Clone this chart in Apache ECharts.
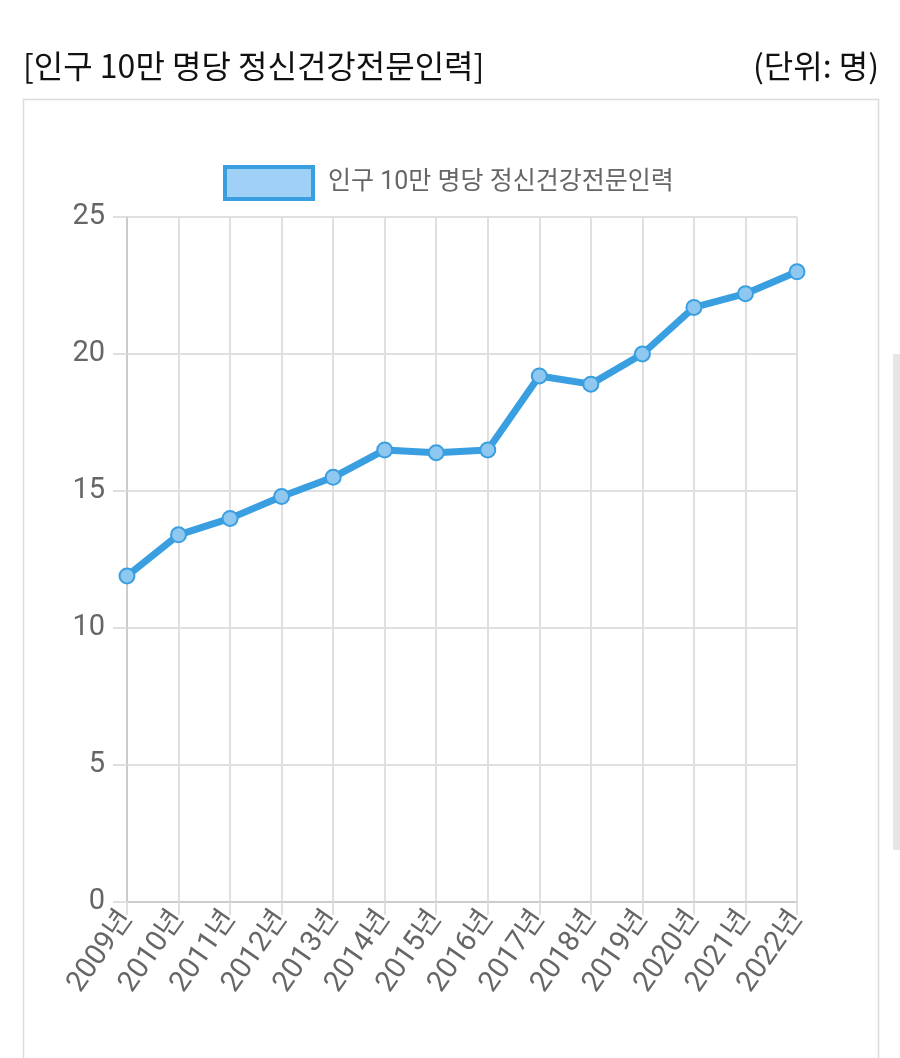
<!DOCTYPE html>
<html><head><meta charset="utf-8">
<script src="https://cdn.jsdelivr.net/npm/echarts@6/dist/echarts.min.js"></script>
<style>html,body{margin:0;padding:0;background:#fff}#c{width:900px;height:1058px}</style>
</head><body><div id="c"></div>
<script>
const titleText = '[인구 10만 명당 정신건강전문인력]';
const unitText = '(단위: 명)';
const seriesName = '인구 10만 명당 정신건강전문인력';
const categories = ['2009년','2010년','2011년','2012년','2013년','2014년','2015년','2016년','2017년','2018년','2019년','2020년','2021년','2022년'];
const values = [11.9, 13.4, 14.0, 14.8, 15.5, 16.5, 16.4, 16.5, 19.2, 18.9, 20.0, 21.7, 22.2, 23.0];
const yTicks = [0, 5, 10, 15, 20, 25];

const FONT = "Roboto, 'Noto Sans CJK KR', sans-serif";
const chart = echarts.init(document.getElementById('c'), null, {renderer: 'canvas'});
chart.setOption({
  animation: false,
  textStyle: {fontFamily: FONT},
  graphic: [
    {type: 'text', left: 23, top: 50, style: {text: titleText, font: "400 32px 'Noto Sans CJK KR', sans-serif", fill: '#111'}},
    {type: 'text', right: 21, top: 50, style: {text: unitText, font: "400 32px 'Noto Sans CJK KR', sans-serif", fill: '#111'}},
    {type: 'rect', shape: {x: 23.5, y: 99.5, width: 855, height: 1000}, style: {fill: 'none', stroke: '#dcdcdc', lineWidth: 1.5}, z: -1},
    {type: 'rect', shape: {x: 893, y: 354, width: 7, height: 496}, style: {fill: '#e6e6e6'}}
  ],
  legend: {
    top: 160, left: 218,
    itemWidth: 88, itemHeight: 32, itemGap: 10,
    icon: 'rect',
    textStyle: {fontSize: 25, color: '#666', fontFamily: FONT, padding: [0,0,0,10]},
    data: [{name: seriesName, itemStyle: {color: '#9fd0f5', borderColor: '#3a9fe0', borderWidth: 4}}]
  },
  grid: {left: 127, right: 103, top: 217, bottom: 156},
  xAxis: {
    type: 'category', data: categories, boundaryGap: false,
    axisLine: {lineStyle: {color: '#cccccc', width: 2}},
    axisTick: {show: true, length: 13, alignWithLabel: true, lineStyle: {color: '#e0e0e0', width: 2}},
    splitLine: {show: true, lineStyle: {color: '#e0e0e0', width: 2}},
    axisLabel: {rotate: 55, fontSize: 29, color: '#666', margin: 12, interval: 0, fontFamily: FONT}
  },
  yAxis: {
    type: 'value', min: 0, max: 25, interval: 5,
    axisLine: {show: true, lineStyle: {color: '#cccccc', width: 2}},
    axisTick: {show: true, length: 14, lineStyle: {color: '#e0e0e0', width: 2}},
    splitLine: {show: true, lineStyle: {color: '#e0e0e0', width: 2}},
    axisLabel: {fontSize: 29, color: '#666', margin: 22, fontFamily: FONT,
      formatter: v => yTicks.includes(v) ? String(v) : ''}
  },
  series: [{
    name: seriesName, type: 'line', data: values,
    symbol: 'circle', symbolSize: 15,
    lineStyle: {color: '#3a9fe0', width: 7},
    itemStyle: {color: '#8ec8f0', borderColor: '#3a9fe0', borderWidth: 2}
  }]
});
</script></body></html>
